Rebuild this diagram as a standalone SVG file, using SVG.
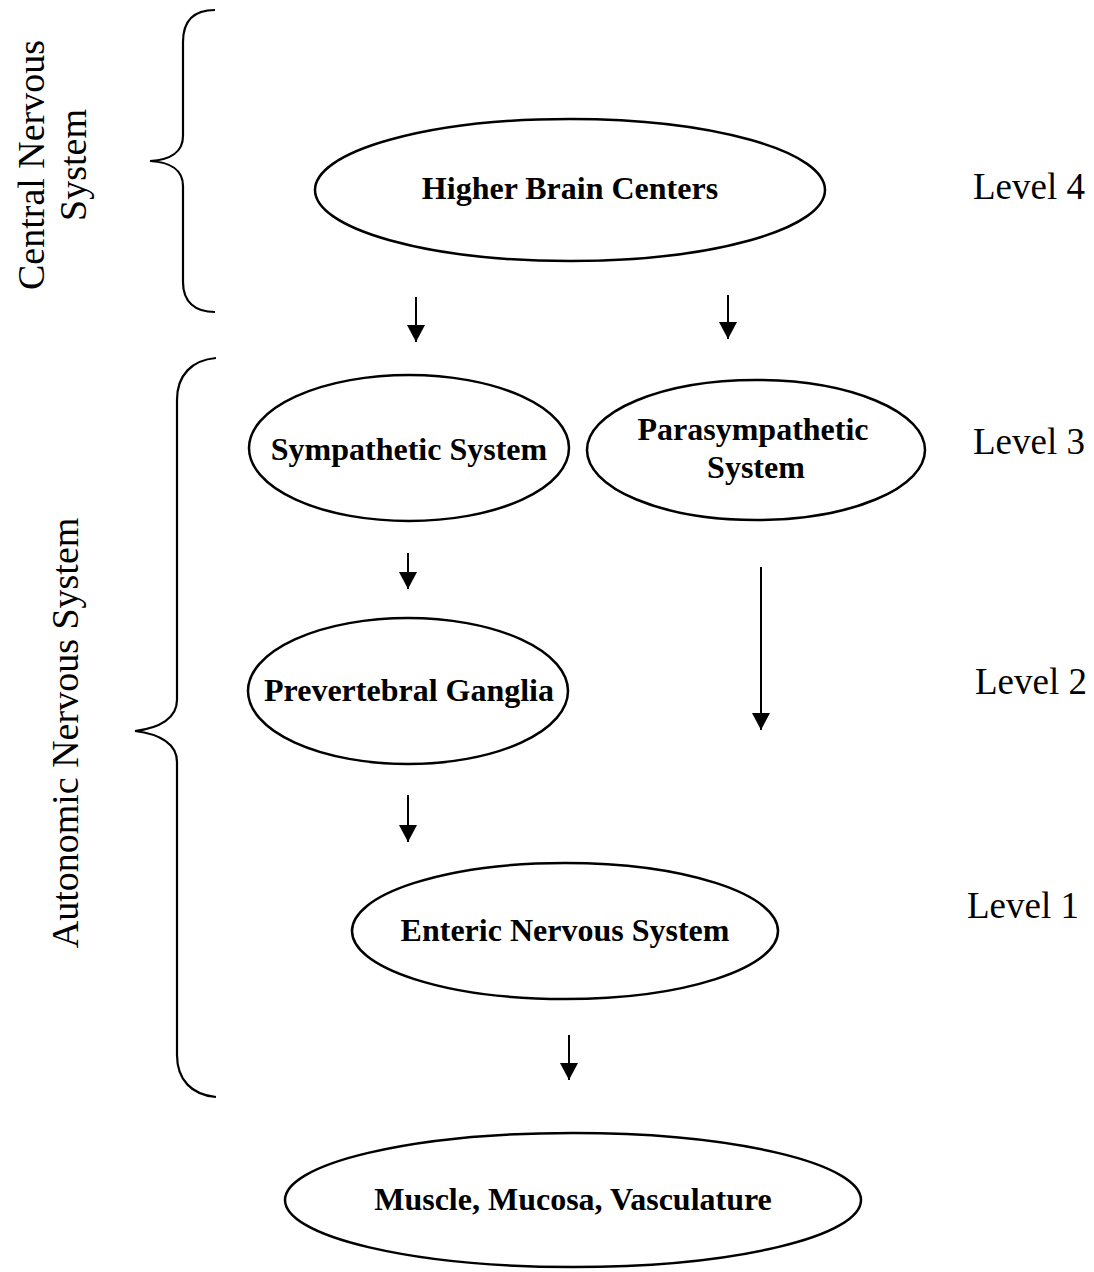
<svg xmlns="http://www.w3.org/2000/svg" width="1094" height="1272" viewBox="0 0 1094 1272">
<style>
.node ellipse{fill:#fff;stroke:#000;stroke-width:2.5}
.node text{font-family:"Liberation Serif",serif;font-weight:bold;font-size:32px;text-anchor:middle;fill:#000}
.lbl{font-family:"Liberation Serif",serif;font-size:37px;fill:#000}
.side{font-family:"Liberation Serif",serif;font-size:38px;fill:#000;text-anchor:middle}
.brace{fill:none;stroke:#000;stroke-width:2.2}
.conn line{stroke:#000;stroke-width:2}
</style>
<defs>
<marker id="ah" viewBox="0 0 17 18" refX="17" refY="9" markerWidth="17" markerHeight="18" markerUnits="userSpaceOnUse" orient="auto">
<path d="M0,0 L17,9 L0,18 z" fill="#000"/>
</marker>
</defs>
<rect width="1094" height="1272" fill="#fff"/>

<g id="cns-brace">
<path class="brace" d="M215,10 C195,10 183,20 183,42 L183,136 C183,152 170,160 150,161 C170,162 183,170 183,186 L183,282 C183,302 195,312 215,312"/>
<text class="side" transform="translate(44,165) rotate(-90)">Central Nervous</text>
<text class="side" transform="translate(86,165) rotate(-90)">System</text>
</g>

<g id="ans-brace">
<path class="brace" d="M216,358 C192,360 177,375 177,400 L177,700 C177,718 160,728 135,731 C160,734 177,744 177,762 L177,1055 C177,1080 192,1095 216,1097"/>
<text class="side" transform="translate(78,733) rotate(-90)">Autonomic Nervous System</text>
</g>

<g id="levels">
<text class="lbl" x="973" y="199">Level 4</text>
<text class="lbl" x="973" y="454">Level 3</text>
<text class="lbl" x="975" y="694">Level 2</text>
<text class="lbl" x="967" y="918">Level 1</text>
</g>

<g id="n-higher" class="node">
<ellipse cx="570" cy="190" rx="255" ry="71"/>
<text x="570" y="199">Higher Brain Centers</text>
</g>
<g id="n-symp" class="node">
<ellipse cx="409" cy="448" rx="160" ry="73"/>
<text x="409" y="460">Sympathetic System</text>
</g>
<g id="n-para" class="node">
<ellipse cx="756" cy="450" rx="169" ry="70"/>
<text x="753" y="440">Parasympathetic</text>
<text x="756" y="478">System</text>
</g>
<g id="n-prev" class="node">
<ellipse cx="408" cy="691" rx="160" ry="73"/>
<text x="409" y="701">Prevertebral Ganglia</text>
</g>
<g id="n-enteric" class="node">
<ellipse cx="565" cy="931" rx="213" ry="68"/>
<text x="565" y="941">Enteric Nervous System</text>
</g>
<g id="n-muscle" class="node">
<ellipse cx="573" cy="1200" rx="288" ry="67"/>
<text x="573" y="1210">Muscle, Mucosa, Vasculature</text>
</g>

<g id="connectors" class="conn">
<line x1="416" y1="297" x2="416" y2="342" marker-end="url(#ah)"/>
<line x1="728" y1="295" x2="728" y2="339" marker-end="url(#ah)"/>
<line x1="408" y1="553" x2="408" y2="589" marker-end="url(#ah)"/>
<line x1="761" y1="567" x2="761" y2="730" marker-end="url(#ah)"/>
<line x1="408" y1="795" x2="408" y2="842" marker-end="url(#ah)"/>
<line x1="569" y1="1035" x2="569" y2="1080" marker-end="url(#ah)"/>
</g>
</svg>
